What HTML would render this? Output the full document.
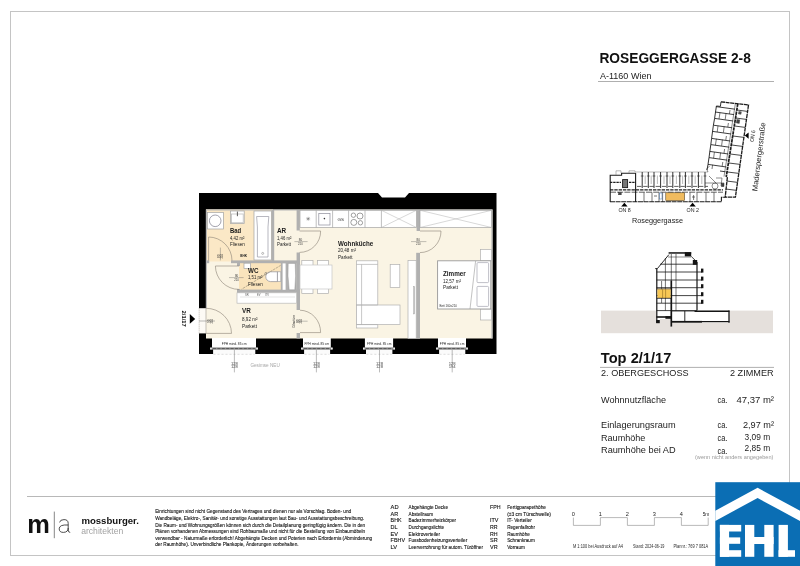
<!DOCTYPE html>
<html>
<head>
<meta charset="utf-8">
<title>Roseggergasse 2-8 - Top 2/1/17</title>
<style>
html,body{margin:0;padding:0;background:#fff;}
body{width:800px;height:566px;overflow:hidden;font-family:"Liberation Sans",sans-serif;}
svg{display:block;position:absolute;left:0;top:0;will-change:transform;}
text{font-family:"Liberation Sans",sans-serif;}
.b{font-weight:bold;}
</style>
</head>
<body>
<svg width="800" height="566" viewBox="0 0 800 566">
<rect x="0" y="0" width="800" height="566" fill="#ffffff"/>

<!-- ============ PAGE FRAME ============ -->
<g id="frame" fill="none" stroke="#c4c4c4" stroke-width="1">
  <rect x="10.5" y="11.5" width="779" height="544"/>
  <line x1="27" y1="496.5" x2="716" y2="496.5" stroke="#b8b8b8"/>
</g>

<!-- ============ FLOOR PLAN ============ -->
<g id="plan">
<!-- outer black walls -->
<polygon points="199,193 378,193 382,197.5 405,197.5 409,193 496.5,193 496.5,354 199,354" fill="#000"/>
<!-- room floor -->
<rect x="206" y="209.5" width="286.5" height="129" fill="#faf4e4"/>
<!-- tile rooms -->
<rect x="206" y="209.5" width="67" height="52" fill="#fbe8c6"/>
<rect x="239" y="262" width="43" height="29" fill="#fae4bc"/>
<!-- wall finish lines -->
<g fill="none" stroke="#b5b5b5" stroke-width="1.2">
  <polyline points="206.4,308 206.4,210 492,210 492,338.5"/>
</g>
<!-- entry door opening -->
<rect x="198.5" y="308.2" width="7.8" height="25.2" fill="#fdfaf5"/>
<g stroke="#999" stroke-width="0.5" fill="none">
  <line x1="199.2" y1="308.2" x2="199.2" y2="333.4" stroke-dasharray="1.2,0.8"/>
  <line x1="199" y1="321" x2="215" y2="321" stroke="#777"/>
  <path d="M206,308.3 A25.3,25.3 0 0 1 231.5,333.4 L206,333.4" stroke="#8a8275" stroke-width="0.6"/>
  <line x1="206" y1="308.2" x2="206" y2="333.4" stroke="#8a8275"/>
</g>
<!-- windows -->
<g id="windows">
  <g>
    <rect x="212" y="338" width="44.0" height="10" fill="#fff"/>
    <rect x="213.1" y="348" width="42.2" height="6.4" fill="#fbfbfb"/>
    <rect x="210.2" y="347.4" width="47.6" height="2.3" fill="#8c8c8c"/>
    <rect x="210.2" y="347.7" width="1.5" height="1.7" fill="#fff"/>
    <rect x="256.3" y="347.7" width="1.5" height="1.7" fill="#fff"/>
    <line x1="213.0" y1="348.55" x2="255.0" y2="348.55" stroke="#555" stroke-width="0.9" stroke-dasharray="3,1.4"/>
    <line x1="213.5" y1="354.3" x2="254.5" y2="354.3" stroke="#c8c8c8" stroke-width="0.6" stroke-dasharray="2,2"/>
  </g>
  <g>
    <rect x="303" y="338" width="27.8" height="10" fill="#fff"/>
    <rect x="304.1" y="348" width="26.0" height="6.4" fill="#fbfbfb"/>
    <rect x="301.2" y="347.4" width="31.4" height="2.3" fill="#8c8c8c"/>
    <rect x="301.2" y="347.7" width="1.5" height="1.7" fill="#fff"/>
    <rect x="331.1" y="347.7" width="1.5" height="1.7" fill="#fff"/>
    <line x1="304.0" y1="348.55" x2="329.8" y2="348.55" stroke="#555" stroke-width="0.9" stroke-dasharray="3,1.4"/>
    <line x1="304.5" y1="354.3" x2="329.3" y2="354.3" stroke="#c8c8c8" stroke-width="0.6" stroke-dasharray="2,2"/>
  </g>
  <g>
    <rect x="364.9" y="338" width="28.2" height="10" fill="#fff"/>
    <rect x="366.0" y="348" width="26.4" height="6.4" fill="#fbfbfb"/>
    <rect x="363.1" y="347.4" width="31.8" height="2.3" fill="#8c8c8c"/>
    <rect x="363.1" y="347.7" width="1.5" height="1.7" fill="#fff"/>
    <rect x="393.4" y="347.7" width="1.5" height="1.7" fill="#fff"/>
    <line x1="365.9" y1="348.55" x2="392.1" y2="348.55" stroke="#555" stroke-width="0.9" stroke-dasharray="3,1.4"/>
    <line x1="366.4" y1="354.3" x2="391.6" y2="354.3" stroke="#c8c8c8" stroke-width="0.6" stroke-dasharray="2,2"/>
  </g>
  <g>
    <rect x="438" y="338" width="28.0" height="10" fill="#fff"/>
    <rect x="439.1" y="348" width="26.2" height="6.4" fill="#fbfbfb"/>
    <rect x="436.2" y="347.4" width="31.6" height="2.3" fill="#8c8c8c"/>
    <rect x="436.2" y="347.7" width="1.5" height="1.7" fill="#fff"/>
    <rect x="466.3" y="347.7" width="1.5" height="1.7" fill="#fff"/>
    <line x1="439.0" y1="348.55" x2="465.0" y2="348.55" stroke="#555" stroke-width="0.9" stroke-dasharray="3,1.4"/>
    <line x1="439.5" y1="354.3" x2="464.5" y2="354.3" stroke="#c8c8c8" stroke-width="0.6" stroke-dasharray="2,2"/>
  </g>
</g>
<!-- inner grey walls -->
<g fill="#b0b0b0">
  <!-- Bad bottom wall -->
  <rect x="231" y="260.4" width="66" height="2.8"/>
  <rect x="206" y="260.4" width="3.2" height="2.8"/>
  <!-- Bad / AR wall (behind tub) -->
  <rect x="271.6" y="210" width="2.6" height="51"/>
  <!-- AR / Wohnkueche wall -->
  <rect x="296.6" y="210" width="3.2" height="20.5"/>
  <rect x="296.6" y="252.5" width="3.4" height="57.5"/>
  <rect x="296.6" y="333" width="3.4" height="5.5"/>
  <!-- WC walls -->
  <rect x="237" y="263" width="3" height="3"/>
  <rect x="237" y="289" width="3" height="4"/>
  <rect x="237" y="289.6" width="60" height="3.2"/>
  <rect x="280.8" y="262" width="16" height="29"/>
  <!-- Wohnkueche / Zimmer wall -->
  <rect x="416.6" y="210" width="3.4" height="21"/>
  <rect x="416.2" y="252.8" width="3.8" height="86"/>
</g>
<!-- shaft insets -->
<rect x="282.6" y="263.4" width="3" height="26.4" fill="#fff"/>
<path d="M288.2,263.4 L295.2,263.4 L295.6,276 L294.8,289.8 L289.2,289.8 L288,276 Z" fill="#fff" stroke="#888" stroke-width="0.4"/>
<!-- Schrankraum / wardrobe below WC -->
<rect x="237" y="292.8" width="59.6" height="10.4" fill="#fff" stroke="#b9b9b9" stroke-width="0.7"/>
<line x1="240" y1="297" x2="295" y2="297" stroke="#d5d5d5" stroke-width="0.6"/>
<text x="245" y="296" font-size="2.6" fill="#555">SR</text>
<text x="257" y="296" font-size="2.6" fill="#555">EV</text>
<text x="265" y="296" font-size="2.6" fill="#555">ITV</text>
<!-- furniture -->
<g fill="#fff" stroke="#a3a3a3" stroke-width="0.7">
  <!-- washing machine -->
  <rect x="207.4" y="212.4" width="16" height="16.6"/>
  <circle cx="215.2" cy="220.8" r="5.8" stroke="#7c7c8c"/>
  <!-- basin Bad -->
  <rect x="230.6" y="211" width="13.6" height="12.6"/>
  <rect x="231.6" y="214" width="11.6" height="8.8" stroke="#b5b5b5"/>
  <!-- bathtub -->
  <rect x="254" y="211" width="17.4" height="49"/>
  <path d="M256.6,216.5 L268.8,216.5 L268,227 L268,257 L257.4,257 L257.4,227 Z" stroke="#9a9aa5"/>
  <circle cx="262.7" cy="253.4" r="1" stroke="#777" stroke-width="0.5"/>
  <!-- WC basin -->
  <rect x="244" y="263.2" width="6.6" height="5.4"/>
  <!-- toilet -->
  <rect x="277.4" y="271.8" width="3.4" height="9.8"/>
  <path d="M277.4,271.8 L270.4,271.8 Q265.8,272.6 265.8,276.7 Q265.8,280.8 270.4,281.6 L277.4,281.6 Z" stroke="#8f8f9a"/>
</g>
<line x1="237.4" y1="211.6" x2="237.4" y2="216.2" stroke="#333" stroke-width="0.8"/>
<!-- kitchen -->
<g fill="#fff" stroke="#a3a3a3" stroke-width="0.7">
  <rect x="300" y="210.3" width="116.4" height="17.2"/>
  <line x1="316.2" y1="210.3" x2="316.2" y2="227.5"/>
  <line x1="332.6" y1="210.3" x2="332.6" y2="227.5"/>
  <line x1="348.6" y1="210.3" x2="348.6" y2="227.5"/>
  <line x1="365" y1="210.3" x2="365" y2="227.5"/>
  <line x1="381.4" y1="210.3" x2="381.4" y2="227.5"/>
  <line x1="381.4" y1="210.3" x2="416.4" y2="227.5" stroke="#b0b0b0" stroke-width="0.5"/>
  <line x1="381.4" y1="227.5" x2="416.4" y2="210.3" stroke="#b0b0b0" stroke-width="0.5"/>
  <!-- sink -->
  <rect x="318.8" y="213.6" width="11.2" height="11.4" stroke="#8d8d9b"/>
  <circle cx="324.4" cy="218.6" r="0.8" fill="#333" stroke="none"/>
  <!-- hob -->
  <circle cx="353.4" cy="215.2" r="2.2" stroke="#777"/>
  <circle cx="360" cy="216" r="3" stroke="#777"/>
  <circle cx="353.8" cy="222.4" r="3" stroke="#777"/>
  <circle cx="360.4" cy="222.8" r="2.2" stroke="#777"/>
  <!-- Zimmer wardrobe -->
  <rect x="420" y="210.3" width="71.6" height="17.2"/>
  <line x1="420" y1="210.3" x2="491.6" y2="227.5" stroke="#b0b0b0" stroke-width="0.5"/>
  <line x1="420" y1="227.5" x2="491.6" y2="210.3" stroke="#b0b0b0" stroke-width="0.5"/>
</g>
<g stroke="#555" stroke-width="0.4">
  <line x1="306.2" y1="218.8" x2="310.2" y2="218.8"/><line x1="308.2" y1="216.8" x2="308.2" y2="220.8"/>
  <line x1="306.8" y1="217.4" x2="309.6" y2="220.2"/><line x1="306.8" y1="220.2" x2="309.6" y2="217.4"/>
</g>
<text x="337.4" y="221" font-size="4.2" fill="#333" textLength="6.6" lengthAdjust="spacingAndGlyphs">GS</text>
<!-- dining table & chairs -->
<g fill="#fff" stroke="#b0b0b0" stroke-width="0.7">
  <rect x="301.8" y="260.6" width="11.2" height="5.4"/>
  <rect x="317.4" y="260.6" width="11.2" height="5.4"/>
  <rect x="301.8" y="288.4" width="11.2" height="5"/>
  <rect x="317.4" y="288.4" width="11.2" height="5"/>
  <rect x="300" y="265" width="32" height="24" stroke="#c5c5c5"/>
  <!-- sofa -->
  <rect x="356.4" y="260.8" width="21.4" height="67.2"/>
  <rect x="356.4" y="305" width="43.6" height="19.6"/>
  <line x1="361.6" y1="264.4" x2="361.6" y2="324.6"/>
  <line x1="356.4" y1="264.4" x2="377.8" y2="264.4"/>
  <line x1="356.4" y1="305" x2="377.8" y2="305"/>
  <line x1="356.4" y1="324.6" x2="377.8" y2="324.6"/>
  <!-- coffee table -->
  <rect x="390.2" y="264.4" width="9.6" height="23"/>
  <!-- tv board -->
  <rect x="408" y="260.4" width="8.2" height="78"/>
  <rect x="413.4" y="286.4" width="1.4" height="27.6" fill="#c9c9c9" stroke="#aaa" stroke-width="0.4"/>
  <!-- nightstands -->
  <rect x="480.4" y="249.4" width="11" height="11.4"/>
  <rect x="480.4" y="309" width="11" height="11"/>
  <!-- bed -->
  <rect x="437.6" y="260.8" width="53.2" height="48.2" stroke="#999" stroke-width="0.9"/>
  <rect x="477" y="262.6" width="11.6" height="20" rx="1" stroke="#a5a5b0"/>
  <rect x="477" y="286.4" width="11.6" height="20" rx="1" stroke="#a5a5b0"/>
  <line x1="475.6" y1="261" x2="470" y2="309" stroke="#999" stroke-width="0.6"/>
</g>
<!-- interior doors -->
<g fill="none" stroke="#8a8275" stroke-width="0.6">
  <!-- Bad door -->
  <path d="M208.6,260.6 L208.6,237 A23.6,23.6 0 0 1 232,260.6"/>
  <!-- AR door -->
  <path d="M299.6,231 L320.6,231 A21,21 0 0 1 299.6,252.4"/>
  <!-- WC door -->
  <path d="M239,266 L215.4,266 A23.6,23.6 0 0 0 239,289.4"/>
  <!-- glass door VR/Wohnkueche -->
  <path d="M300,332.6 L320.6,332.6 A21,22 0 0 0 300,310.2"/>
  <!-- Zimmer door -->
  <path d="M420,231 L441,231 A21,21.4 0 0 1 420,252.6"/>
  <line x1="280.6" y1="265.4" x2="241.6" y2="289.2" stroke="#77705f" stroke-width="0.5" stroke-dasharray="2.4,0.8"/>
  <path d="M264.4,275.4 L265.2,272.6 L266.4,272.4 L266.6,274" stroke="#666" stroke-width="0.5"/>
</g>
<!-- door dimension marks -->
<g stroke="#666" stroke-width="0.4" font-size="3" fill="#333" text-anchor="middle">
  <line x1="294.4" y1="241.6" x2="307.6" y2="241.6"/>
  <text x="300.4" y="240.8" stroke="none" textLength="3.4" lengthAdjust="spacingAndGlyphs">80</text>
  <text x="300.4" y="244.6" stroke="none" textLength="4.6" lengthAdjust="spacingAndGlyphs">210</text>
  <line x1="229" y1="277.6" x2="243.6" y2="277.6"/>
  <text x="236.6" y="276.8" stroke="none" textLength="3.4" lengthAdjust="spacingAndGlyphs">80</text>
  <text x="236.6" y="280.6" stroke="none" textLength="4.6" lengthAdjust="spacingAndGlyphs">210</text>
  <line x1="411" y1="241.6" x2="426.4" y2="241.6"/>
  <text x="418.2" y="240.8" stroke="none" textLength="3.4" lengthAdjust="spacingAndGlyphs">80</text>
  <text x="418.2" y="244.6" stroke="none" textLength="4.6" lengthAdjust="spacingAndGlyphs">210</text>
  <line x1="220.4" y1="247.6" x2="220.4" y2="260.4"/>
  <text transform="translate(219.7,256.2) rotate(-90)" stroke="none" font-size="3" text-anchor="middle" textLength="3.4" lengthAdjust="spacingAndGlyphs">80</text>
  <text transform="translate(223.4,256.2) rotate(-90)" stroke="none" font-size="3" text-anchor="middle" textLength="4.6" lengthAdjust="spacingAndGlyphs">210</text>
  <line x1="296.6" y1="321.2" x2="307.6" y2="321.2"/>
  <text transform="translate(299.2,321.2) rotate(-90)" stroke="none" font-size="3" text-anchor="middle" textLength="3.4" lengthAdjust="spacingAndGlyphs">80</text>
  <text transform="translate(302.4,321.2) rotate(-90)" stroke="none" font-size="3" text-anchor="middle" textLength="4.6" lengthAdjust="spacingAndGlyphs">210</text>
  <text transform="translate(294.8,327.8) rotate(-90)" stroke="none" font-size="3" text-anchor="start" textLength="13" lengthAdjust="spacingAndGlyphs">Glastüre</text>
  <text transform="translate(209.6,321.3) rotate(-90)" stroke="none" font-size="3" text-anchor="middle" textLength="3.4" lengthAdjust="spacingAndGlyphs">90</text>
  <text transform="translate(212.6,321.3) rotate(-90)" stroke="none" font-size="3" text-anchor="middle" textLength="4.6" lengthAdjust="spacingAndGlyphs">210</text>
</g>
<text x="240.2" y="257" font-size="3.2" fill="#222" font-weight="bold" textLength="6.8" lengthAdjust="spacingAndGlyphs">BHK</text>
<!-- entry marker -->
<polygon points="189.8,314 195.2,318.9 189.8,323.8" fill="#000"/>
<text transform="translate(182.4,310.6) rotate(90)" font-size="6.2" font-weight="bold" fill="#111" textLength="16.2" lengthAdjust="spacingAndGlyphs">2/1/17</text>
<!-- room labels -->
<g fill="#1a1a1a">
  <g font-weight="bold" font-size="8">
    <text x="230" y="233" textLength="11.2" lengthAdjust="spacingAndGlyphs">Bad</text>
    <text x="277" y="233" textLength="9.2" lengthAdjust="spacingAndGlyphs">AR</text>
    <text x="248" y="272.6" textLength="10.4" lengthAdjust="spacingAndGlyphs">WC</text>
    <text x="242" y="313" textLength="8.8" lengthAdjust="spacingAndGlyphs">VR</text>
    <text x="338" y="245.6" textLength="35.2" lengthAdjust="spacingAndGlyphs">Wohnküche</text>
    <text x="443" y="275.6" textLength="22.8" lengthAdjust="spacingAndGlyphs">Zimmer</text>
  </g>
  <g font-size="5.7" fill="#222">
    <text x="230" y="240" textLength="14.4" lengthAdjust="spacingAndGlyphs">4,42 m²</text>
    <text x="230" y="246.3" textLength="14.8" lengthAdjust="spacingAndGlyphs">Fliesen</text>
    <text x="277" y="240" textLength="14.4" lengthAdjust="spacingAndGlyphs">1,46 m²</text>
    <text x="277" y="246.3" textLength="14" lengthAdjust="spacingAndGlyphs">Parkett</text>
    <text x="248" y="279.4" textLength="14.4" lengthAdjust="spacingAndGlyphs">1,51 m²</text>
    <text x="248" y="286.2" textLength="14.8" lengthAdjust="spacingAndGlyphs">Fliesen</text>
    <text x="242" y="320.6" textLength="15.6" lengthAdjust="spacingAndGlyphs">8,92 m²</text>
    <text x="242" y="327.5" textLength="15" lengthAdjust="spacingAndGlyphs">Parkett</text>
    <text x="338" y="252.4" textLength="18" lengthAdjust="spacingAndGlyphs">20,48 m²</text>
    <text x="338" y="258.8" textLength="14.6" lengthAdjust="spacingAndGlyphs">Parkett</text>
    <text x="443" y="282.8" textLength="18" lengthAdjust="spacingAndGlyphs">12,57 m²</text>
    <text x="443" y="289.4" textLength="15" lengthAdjust="spacingAndGlyphs">Parkett</text>
  </g>
  <text x="439.4" y="307.2" font-size="2.9" fill="#333" textLength="17.6" lengthAdjust="spacingAndGlyphs">Bett 160x210</text>
</g>
<!-- FPH labels -->
<g font-size="4.2" fill="#1e1e1e" text-anchor="middle">
  <text x="234.2" y="345.2" textLength="25" lengthAdjust="spacingAndGlyphs">FPH mind. 85 cm</text>
  <text x="316.8" y="345.2" textLength="24.6" lengthAdjust="spacingAndGlyphs">FPH mind. 85 cm</text>
  <text x="379.2" y="345.2" textLength="24.6" lengthAdjust="spacingAndGlyphs">FPH mind. 85 cm</text>
  <text x="452" y="345.2" textLength="24.6" lengthAdjust="spacingAndGlyphs">FPH mind. 85 cm</text>
</g>
<!-- dimension ticks below windows -->
<g stroke="#858585" stroke-width="0.55" font-size="3.6" fill="#4a4a4a" text-anchor="middle">
  <line x1="234.4" y1="349.8" x2="234.4" y2="372.4"/>
  <line x1="316.4" y1="349.8" x2="316.4" y2="372.4"/>
  <line x1="379.5" y1="349.8" x2="379.5" y2="372.4"/>
  <line x1="452.2" y1="349.8" x2="452.2" y2="372.4"/>
  <g stroke="none">
  <text x="234.4" y="364.8" textLength="7" lengthAdjust="spacingAndGlyphs">128</text>
  <text x="234.4" y="367.9" textLength="7" lengthAdjust="spacingAndGlyphs">128</text>
  <text x="316.4" y="364.8" textLength="7" lengthAdjust="spacingAndGlyphs">128</text>
  <text x="316.4" y="367.9" textLength="7" lengthAdjust="spacingAndGlyphs">128</text>
  <text x="379.5" y="364.8" textLength="7" lengthAdjust="spacingAndGlyphs">128</text>
  <text x="379.5" y="367.9" textLength="7" lengthAdjust="spacingAndGlyphs">128</text>
  <text x="452.2" y="364.8" textLength="7" lengthAdjust="spacingAndGlyphs">128</text>
  <text x="452.2" y="367.9" textLength="7" lengthAdjust="spacingAndGlyphs">194</text>
  </g>
</g>
<text x="250.4" y="367" font-size="5.8" fill="#a6a6a6" textLength="29.4" lengthAdjust="spacingAndGlyphs">Gesimse NEU</text>

</g>

<!-- ============ RIGHT PANEL ============ -->
<g id="panel">
<!-- title -->
<text x="599.4" y="62.6" font-size="14" font-weight="bold" fill="#111" textLength="151.4" lengthAdjust="spacingAndGlyphs">ROSEGGERGASSE 2-8</text>
<text x="600" y="78.8" font-size="9" fill="#222" textLength="51.4" lengthAdjust="spacingAndGlyphs">A-1160 Wien</text>
<line x1="598" y1="81.5" x2="774" y2="81.5" stroke="#9a9a9a" stroke-width="0.8"/>

<!-- site plan -->
<g id="site" fill="none" stroke="#1c1c1c" stroke-width="0.8">
  <!-- horizontal wing outline -->
  <path d="M610.2,202 L610.2,175.2 L621.6,175.2 L621.6,173.2 L635.6,173.2" stroke-width="1.1"/>
  <path d="M616,175 L616,170.8 L621,170.8 L621,173 M629,173 L629,170.8 L635,170.8 L635,172 L708,172" stroke-width="0.5" stroke="#777"/>
  <path d="M610,201.8 L721.4,201.8 L721.4,197.3 L725.4,197.3" stroke-width="1.1" stroke-dasharray="5,0.6"/>
  <!-- corridor lines -->
  <line x1="610" y1="189.8" x2="723" y2="189.8" stroke-width="1.2" stroke-dasharray="3.4,0.9"/>
  <line x1="610" y1="192.2" x2="723" y2="192.2" stroke-width="0.7" stroke-dasharray="6,1.2"/>
  <!-- left block details -->
  <line x1="635.6" y1="173" x2="635.6" y2="202" stroke-width="1.1"/>
  <line x1="610" y1="182.4" x2="621" y2="182.4" stroke-width="1.1" stroke-dasharray="2.4,0.8"/>
  <line x1="629" y1="182.4" x2="636" y2="182.4" stroke-width="1.1" stroke-dasharray="2.4,0.8"/>
  <rect x="622.6" y="179.6" width="5" height="8" fill="#777" stroke-width="0.9"/>
  <rect x="618.6" y="192.6" width="2.6" height="2.2" fill="#444" stroke-width="0.4"/>
  <!-- partitions upper rooms -->
  <g stroke-width="0.9">
    <line x1="642.2" y1="172" x2="642.2" y2="188"/>
    <line x1="648.3" y1="172" x2="648.3" y2="188"/>
    <line x1="654" y1="172" x2="654" y2="188"/>
    <line x1="660.6" y1="172" x2="660.6" y2="188"/>
    <line x1="667" y1="172" x2="667" y2="188"/>
    <line x1="672.8" y1="172" x2="672.8" y2="188"/>
    <line x1="679.8" y1="172" x2="679.8" y2="188"/>
    <line x1="685.4" y1="172" x2="685.4" y2="188"/>
    <line x1="692" y1="172" x2="692" y2="188"/>
    <line x1="698.4" y1="172" x2="698.4" y2="188"/>
    <line x1="705" y1="172" x2="705" y2="188"/>
    <line x1="637" y1="186.4" x2="708" y2="186.4" stroke-width="0.7" stroke-dasharray="4.4,1.8"/>
    <line x1="645.2" y1="175.5" x2="645.2" y2="184" stroke-width="0.45" stroke="#666"/>
    <line x1="651.2" y1="175.5" x2="651.2" y2="184" stroke-width="0.45" stroke="#666"/>
    <line x1="657.4" y1="175.5" x2="657.4" y2="184" stroke-width="0.45" stroke="#666"/>
    <line x1="664" y1="175.5" x2="664" y2="184" stroke-width="0.45" stroke="#666"/>
    <line x1="670" y1="175.5" x2="670" y2="184" stroke-width="0.45" stroke="#666"/>
    <line x1="676.4" y1="175.5" x2="676.4" y2="184" stroke-width="0.45" stroke="#666"/>
    <line x1="682.6" y1="175.5" x2="682.6" y2="184" stroke-width="0.45" stroke="#666"/>
    <line x1="688.8" y1="175.5" x2="688.8" y2="184" stroke-width="0.45" stroke="#666"/>
    <line x1="695.2" y1="175.5" x2="695.2" y2="184" stroke-width="0.45" stroke="#666"/>
    <line x1="701.8" y1="175.5" x2="701.8" y2="184" stroke-width="0.45" stroke="#666"/>
    <line x1="640.8000000000001" y1="176" x2="643.6" y2="176" stroke-width="0.6"/>
    <line x1="646.9" y1="176" x2="649.6999999999999" y2="176" stroke-width="0.6"/>
    <line x1="652.6" y1="176" x2="655.4" y2="176" stroke-width="0.6"/>
    <line x1="659.2" y1="176" x2="662.0" y2="176" stroke-width="0.6"/>
    <line x1="665.6" y1="176" x2="668.4" y2="176" stroke-width="0.6"/>
    <line x1="671.4" y1="176" x2="674.1999999999999" y2="176" stroke-width="0.6"/>
    <line x1="678.4" y1="176" x2="681.1999999999999" y2="176" stroke-width="0.6"/>
    <line x1="684.0" y1="176" x2="686.8" y2="176" stroke-width="0.6"/>
    <line x1="690.6" y1="176" x2="693.4" y2="176" stroke-width="0.6"/>
    <line x1="697.0" y1="176" x2="699.8" y2="176" stroke-width="0.6"/>
    <line x1="703.6" y1="176" x2="706.4" y2="176" stroke-width="0.6"/>
  </g>
  <!-- partitions lower rooms -->
  <g stroke-width="0.6">
    <line x1="644" y1="192.4" x2="644" y2="202"/>
    <line x1="652" y1="192.4" x2="652" y2="202"/>
    <line x1="659" y1="192.4" x2="659" y2="202"/>
    <line x1="662.6" y1="192.4" x2="662.6" y2="202"/>
    <line x1="690" y1="192.4" x2="690" y2="202"/>
    <line x1="697" y1="192.4" x2="697" y2="202"/>
    <line x1="706" y1="192.4" x2="706" y2="202"/>
    <line x1="714" y1="192.4" x2="714" y2="202"/>
    <line x1="692" y1="197" x2="695" y2="197"/>
    <line x1="693.6" y1="195" x2="693.6" y2="200"/>
    <line x1="654" y1="196" x2="657" y2="196"/>
  </g>
  <rect x="659.4" y="193" width="2.6" height="6" stroke="#4a78b0" stroke-width="0.5"/>
  <!-- corner apartments -->
  <path d="M708,172 L706.6,169 L709.6,166 M709,176 L716,183 M712,186 A3,3 0 1 0 718,186 A3,3 0 1 0 712,186 M716,178 L722,178 L721,186 M705,183 L724,183" stroke-width="0.5"/>
  <rect x="721.4" y="183.4" width="2.6" height="3.2" fill="#444" stroke-width="0.4"/>
  <!-- angled wing : outer -->
  <path d="M721,101.8 L748.5,105 L735.4,197.2 L725.2,197.2 L727.4,177" stroke-width="1.3" stroke-dasharray="4,0.6"/>
  <!-- corridor thick line -->
  <path d="M737.8,103.6 L726.2,177" stroke-width="1.7" stroke-dasharray="3.4,0.6"/>
  <path d="M735.4,103.4 L724,176.6" stroke-width="0.5"/>
  <!-- west side rooms of angled wing -->
  <path d="M721,101.8 L720.4,106.4 L716.4,106 L714.6,118.4 L713.4,125.2 L711.6,138.4 L710.8,144.6 L709,157.6 L708,164.4 L707,170" stroke-width="0.9"/>
  <path d="M720,112.6 L719,119 M718,125.8 L717.2,132 M716.4,138.8 L715.4,145.2 M714.4,152 L713.6,158.2 M712.6,164.8 L712,169 M726,113.4 L725.2,119.6 M724.2,126.4 L723.4,132.6 M722.4,139.6 L721.6,145.8 M720.6,152.6 L719.8,158.8 M730,110 L729.4,114 M728.4,123 L727.8,127 M726.4,136 L725.8,140 M724.6,149 L724,153 M722.8,162 L722.2,166" stroke-width="0.6"/>
  <g stroke-width="0.85">
    <line x1="716" y1="106.6" x2="735" y2="109.2"/>
    <line x1="715.2" y1="112" x2="734" y2="114.6"/>
    <line x1="714.6" y1="118.4" x2="733.2" y2="121"/>
    <line x1="713.4" y1="125.2" x2="732.2" y2="127.8"/>
    <line x1="712.6" y1="131.4" x2="731.2" y2="134"/>
    <line x1="711.6" y1="138.4" x2="730.2" y2="141"/>
    <line x1="710.8" y1="144.6" x2="729.4" y2="147.2"/>
    <line x1="709.8" y1="151.4" x2="728.4" y2="154"/>
    <line x1="709" y1="157.6" x2="727.4" y2="160.2"/>
    <line x1="708" y1="164.4" x2="726.4" y2="167"/>
    <line x1="720" y1="171" x2="725.6" y2="171.8"/>
  </g>
  <!-- east strip partitions -->
  <g stroke-width="0.8">
    <line x1="737" y1="110" x2="747.4" y2="111.4"/>
    <line x1="735.8" y1="118" x2="746.4" y2="119.4"/>
    <line x1="734.6" y1="126" x2="745.2" y2="127.4"/>
    <line x1="733" y1="136" x2="744" y2="137.4"/>
    <line x1="731.6" y1="145" x2="742.6" y2="146.4"/>
    <line x1="730.2" y1="154" x2="741.4" y2="155.4"/>
    <line x1="728.8" y1="163" x2="740.2" y2="164.4"/>
    <line x1="727.4" y1="172" x2="739" y2="173.4"/>
    <line x1="726.6" y1="181" x2="737.8" y2="182.4"/>
    <line x1="725.6" y1="189" x2="736.8" y2="190.4"/>
  </g>
  <rect x="736.6" y="119.6" width="3" height="3.6" fill="#444" stroke-width="0.3" transform="rotate(8 738 121)"/>
  <rect x="738.6" y="111.6" width="2.6" height="2.6" fill="#555" stroke-width="0.3" transform="rotate(8 740 113)"/>
</g>
<!-- highlighted flat -->
<rect x="665.8" y="192.8" width="18.8" height="7.8" fill="#f0bb5e" stroke="#3a2a10" stroke-width="0.5"/>
<!-- access markers -->
<polygon points="624.4,202.8 621.2,206.6 627.6,206.6" fill="#000"/>
<polygon points="692.6,202.8 689.4,206.6 695.8,206.6" fill="#000"/>
<polygon points="744.8,135.6 748.6,132.4 748.6,138.8" fill="#000"/>
<text x="624.6" y="212.2" font-size="5.6" fill="#222" text-anchor="middle" textLength="12.4" lengthAdjust="spacingAndGlyphs">ON 8</text>
<text x="692.8" y="212.2" font-size="5.6" fill="#222" text-anchor="middle" textLength="12.4" lengthAdjust="spacingAndGlyphs">ON 2</text>
<text transform="translate(753.8,142) rotate(-83)" font-size="5.6" fill="#222" textLength="11.6" lengthAdjust="spacingAndGlyphs">ON 6</text>
<text x="632" y="222.8" font-size="7.6" fill="#222" textLength="51" lengthAdjust="spacingAndGlyphs">Roseggergasse</text>
<text transform="translate(757.2,191.4) rotate(-83)" font-size="7.6" fill="#222" textLength="69" lengthAdjust="spacingAndGlyphs">Maderspergerstraße</text>

<!-- section -->
<rect x="601" y="310.6" width="172" height="22.6" fill="#e5e0dc"/>
<g id="section" fill="none" stroke="#141414" stroke-width="0.8">
  <!-- building interior white -->
  <path d="M656.6,323 L656.6,268.4 L668.9,254 L691,254 L691,256.4 L696.7,261.6 L697.2,310.8 L729.4,310.8 L729.4,322.6 L672,322.6 L672,326.4 L670.6,326.4 L670.6,319 L660,319 L660,323 Z" fill="#fff" stroke="none"/>
  <!-- outline -->
  <path d="M656.8,323 L656.8,268.4" stroke-width="1.2"/>
  <path d="M655.2,268.6 L657.4,268.6 L668.9,254.6" stroke-width="0.9"/>
  <path d="M691.2,256.4 L696.4,261.4" stroke-width="0.8"/>
  <rect x="668.6" y="252.2" width="22.6" height="1.5" fill="#141414" stroke="none"/>
  <rect x="684.8" y="252.2" width="6.4" height="4.2" fill="#141414" stroke="none"/>
  <rect x="692.8" y="260" width="4.4" height="4.8" fill="#141414" stroke="none"/>
  <line x1="697" y1="262" x2="697" y2="310.6" stroke-width="1.2"/>
  <!-- floors -->
  <g stroke-width="0.8">
    <line x1="668" y1="257" x2="691" y2="257" stroke-width="0.5"/>
    <line x1="660" y1="264.2" x2="696.6" y2="264.2"/>
    <line x1="656.6" y1="272" x2="702" y2="272"/>
    <line x1="656.6" y1="280" x2="702" y2="280"/>
    <line x1="656.6" y1="287.7" x2="702" y2="287.7"/>
    <line x1="656.6" y1="295.6" x2="702" y2="295.6"/>
    <line x1="656.6" y1="303.2" x2="702" y2="303.2"/>
    <line x1="656.6" y1="310.6" x2="697" y2="310.6"/>
  </g>
  <!-- balcony end blocks -->
  <g fill="#141414" stroke="none">
    <rect x="701" y="268.6" width="2.4" height="4"/>
    <rect x="701" y="276.6" width="2.4" height="4"/>
    <rect x="701" y="284.2" width="2.4" height="4"/>
    <rect x="701" y="292.2" width="2.4" height="4"/>
    <rect x="701" y="299.8" width="2.4" height="4"/>
  </g>
  <!-- interior verticals -->
  <g stroke-width="0.6">
    <line x1="665.4" y1="258" x2="665.4" y2="310.6"/>
    <line x1="671.3" y1="254" x2="671.3" y2="281"/>
    <line x1="676" y1="254" x2="676" y2="310.6"/>
    <line x1="661.6" y1="281" x2="661.6" y2="303"/>
  </g>
  <line x1="671.3" y1="280.6" x2="671.3" y2="326.6" stroke-width="1.7"/>
  <!-- basement -->
  <rect x="656.4" y="316.2" width="15" height="1.6" fill="#141414" stroke="none"/>
  <rect x="665.4" y="316.2" width="6" height="2.6" fill="#141414" stroke="none"/>
  <rect x="656.2" y="320" width="3.6" height="3.2" fill="#141414" stroke="none"/>
  <line x1="672" y1="311" x2="694.4" y2="311" stroke-width="0.7"/>
  <line x1="694.4" y1="311.2" x2="729.4" y2="311.2" stroke-width="1.4"/>
  <line x1="729" y1="310.6" x2="729" y2="322.8" stroke-width="1.3"/>
  <line x1="671.3" y1="321.8" x2="702" y2="321.8" stroke-width="1.8"/>
  <line x1="702" y1="321.6" x2="729.4" y2="321.6" stroke-width="1.2"/>
  <line x1="684.8" y1="311" x2="684.8" y2="321.4" stroke-width="0.9"/>
</g>
<rect x="657.4" y="289.2" width="13.2" height="8.8" fill="#f8c855"/>
<line x1="656.8" y1="298.3" x2="671" y2="298.3" stroke="#141414" stroke-width="0.8"/>
<line x1="656.8" y1="288.8" x2="671" y2="288.8" stroke="#3a2a10" stroke-width="0.7"/>
<g stroke="#7a5a18" stroke-width="0.5">
  <line x1="665.6" y1="289.2" x2="665.6" y2="298"/>
  <line x1="662.6" y1="289.2" x2="662.6" y2="298"/>
</g>

<!-- data block -->
<text x="600.8" y="363" font-size="14.6" font-weight="bold" fill="#111" textLength="70.6" lengthAdjust="spacingAndGlyphs">Top 2/1/17</text>
<line x1="600" y1="367.4" x2="774" y2="367.4" stroke="#9a9a9a" stroke-width="0.8"/>
<g font-size="8.6" fill="#222">
  <text x="601" y="376.2" textLength="87.6" lengthAdjust="spacingAndGlyphs">2. OBERGESCHOSS</text>
  <text x="730" y="376.2" textLength="43.6" lengthAdjust="spacingAndGlyphs">2 ZIMMER</text>
</g>
<g font-size="9.4" fill="#222">
  <text x="601" y="402.6" textLength="65" lengthAdjust="spacingAndGlyphs">Wohnnutzfläche</text>
  <text x="717.6" y="402.6" textLength="10" lengthAdjust="spacingAndGlyphs">ca.</text>
  <text x="736.4" y="402.6" textLength="37.6" lengthAdjust="spacingAndGlyphs">47,37 m²</text>
  <text x="601" y="428" textLength="74.6" lengthAdjust="spacingAndGlyphs">Einlagerungsraum</text>
  <text x="717.6" y="428.2" textLength="10" lengthAdjust="spacingAndGlyphs">ca.</text>
  <text x="743" y="428" textLength="31" lengthAdjust="spacingAndGlyphs">2,97 m²</text>
  <text x="601" y="440.8" textLength="44.4" lengthAdjust="spacingAndGlyphs">Raumhöhe</text>
  <text x="717.6" y="441" textLength="10" lengthAdjust="spacingAndGlyphs">ca.</text>
  <text x="744.6" y="440" textLength="25.6" lengthAdjust="spacingAndGlyphs">3,09 m</text>
  <text x="601" y="453.4" textLength="74.6" lengthAdjust="spacingAndGlyphs">Raumhöhe bei AD</text>
  <text x="717.6" y="453.8" textLength="10" lengthAdjust="spacingAndGlyphs">ca.</text>
  <text x="744.6" y="451.4" textLength="25.6" lengthAdjust="spacingAndGlyphs">2,85 m</text>
</g>
<text x="695" y="458.8" font-size="5.2" fill="#9a9a9a" textLength="78.4" lengthAdjust="spacingAndGlyphs">(wenn nicht anders angegeben)</text>

</g>

<!-- ============ FOOTER ============ -->
<g id="footer">
<!-- architects logo -->
<text x="27.2" y="532.6" font-size="25.4" font-weight="bold" fill="#111" textLength="22.6" lengthAdjust="spacingAndGlyphs">m</text>
<line x1="54.3" y1="511.6" x2="54.3" y2="538.2" stroke="#333" stroke-width="0.6"/>
<path d="M59.6,522.4 Q60,519.6 64,519.6 Q68.2,519.6 68.2,523.4 L68.2,530 Q68.2,532.4 70.2,532.4 M68.2,525 Q59.2,524.4 59.2,528.8 Q59.2,532.4 63.4,532.4 Q68.2,532.2 68.2,528" fill="none" stroke="#222" stroke-width="0.8"/>
<text x="81.4" y="524" font-size="9.4" font-weight="bold" fill="#111" textLength="57.6" lengthAdjust="spacingAndGlyphs">mossburger.</text>
<text x="81.2" y="533.6" font-size="9" fill="#a2a2a2" textLength="42" lengthAdjust="spacingAndGlyphs">architekten</text>
<!-- disclaimer -->
<g font-size="5.3" fill="#151515" stroke="#151515" stroke-width="0.12">
  <text x="155.2" y="513.4" textLength="196" lengthAdjust="spacingAndGlyphs">Einrichtungen sind nicht Gegenstand des Vertrages und dienen nur als Vorschlag. Boden- und</text>
  <text x="155.2" y="520" textLength="209" lengthAdjust="spacingAndGlyphs">Wandbeläge, Elektro-, Sanitär- und sonstige Ausstattungen laut Bau- und Ausstattungsbeschreibung.</text>
  <text x="155.2" y="526.6" textLength="210" lengthAdjust="spacingAndGlyphs">Die Raum- und Wohnungsgrößen können sich durch die Detailplanung geringfügig ändern. Die in den</text>
  <text x="155.2" y="533.2" textLength="210" lengthAdjust="spacingAndGlyphs">Plänen vorhandenen Abmessungen sind Rohbaumaße und nicht für die Bestellung von Einbaumöbeln</text>
  <text x="155.2" y="539.6" textLength="217" lengthAdjust="spacingAndGlyphs">verwendbar - Naturmaße erforderlich! Abgehängte Decken und Poterien nach Erfordernis (Abminderung</text>
  <text x="155.2" y="546" textLength="143.4" lengthAdjust="spacingAndGlyphs">der Raumhöhe). Unverbindliche Plankopie, Änderungen vorbehalten.</text>
</g>
<!-- legend -->
<g font-size="5.3" fill="#151515" stroke="#151515" stroke-width="0.12">
  <text x="390.6" y="508.8" textLength="8" lengthAdjust="spacingAndGlyphs">AD</text>
  <text x="390.6" y="515.5" textLength="7.6" lengthAdjust="spacingAndGlyphs">AR</text>
  <text x="390.6" y="522.2" textLength="11" lengthAdjust="spacingAndGlyphs">BHK</text>
  <text x="390.6" y="528.9" textLength="7" lengthAdjust="spacingAndGlyphs">DL</text>
  <text x="390.6" y="535.5" textLength="7.4" lengthAdjust="spacingAndGlyphs">EV</text>
  <text x="390.6" y="542.2" textLength="14.4" lengthAdjust="spacingAndGlyphs">FBHV</text>
  <text x="390.6" y="548.8" textLength="6.6" lengthAdjust="spacingAndGlyphs">LV</text>
  <text x="408.6" y="508.8" textLength="39.4" lengthAdjust="spacingAndGlyphs">Abgehängte Decke</text>
  <text x="408.6" y="515.5" textLength="24.6" lengthAdjust="spacingAndGlyphs">Abstellraum</text>
  <text x="408.6" y="522.2" textLength="47.4" lengthAdjust="spacingAndGlyphs">Badezimmerheizkörper</text>
  <text x="408.6" y="528.9" textLength="35.6" lengthAdjust="spacingAndGlyphs">Durchgangslichte</text>
  <text x="408.6" y="535.5" textLength="31.4" lengthAdjust="spacingAndGlyphs">Elektroverteiler</text>
  <text x="408.6" y="542.2" textLength="58.6" lengthAdjust="spacingAndGlyphs">Fussbodenheizungsverteiler</text>
  <text x="408.6" y="548.8" textLength="74.4" lengthAdjust="spacingAndGlyphs">Leerverrohrung für autom. Türöffner</text>
  <text x="490" y="508.8" textLength="10.6" lengthAdjust="spacingAndGlyphs">FPH</text>
  <text x="490" y="522.2" textLength="8.4" lengthAdjust="spacingAndGlyphs">ITV</text>
  <text x="490" y="528.9" textLength="7.6" lengthAdjust="spacingAndGlyphs">RR</text>
  <text x="490" y="535.5" textLength="7.6" lengthAdjust="spacingAndGlyphs">RH</text>
  <text x="490" y="542.2" textLength="7.6" lengthAdjust="spacingAndGlyphs">SR</text>
  <text x="490" y="548.8" textLength="7.6" lengthAdjust="spacingAndGlyphs">VR</text>
  <text x="507.2" y="508.8" textLength="38.8" lengthAdjust="spacingAndGlyphs">Fertigparapethöhe</text>
  <text x="507.2" y="515.5" textLength="43.8" lengthAdjust="spacingAndGlyphs">(±3 cm Türschwelle)</text>
  <text x="507.2" y="522.2" textLength="24.6" lengthAdjust="spacingAndGlyphs">IT- Verteiler</text>
  <text x="507.2" y="528.9" textLength="27.8" lengthAdjust="spacingAndGlyphs">Regenfallrohr</text>
  <text x="507.2" y="535.5" textLength="22.6" lengthAdjust="spacingAndGlyphs">Raumhöhe</text>
  <text x="507.2" y="542.2" textLength="27.6" lengthAdjust="spacingAndGlyphs">Schrankraum</text>
  <text x="507.2" y="548.8" textLength="17.8" lengthAdjust="spacingAndGlyphs">Vorraum</text>
</g>
<!-- scale bar -->
<path d="M573.4,517.6 L573.4,525.4 L600.4,525.4 L600.4,517.6 L627.4,517.6 L627.4,525.4 L654.4,525.4 L654.4,517.6 L681.4,517.6 L681.4,525.4 L708.2,525.4 L708.2,517.6" fill="none" stroke="#8a8a8a" stroke-width="0.6"/>
<g font-size="5.6" fill="#222" text-anchor="middle">
  <text x="573.4" y="516.4">0</text>
  <text x="600.4" y="516.4">1</text>
  <text x="627.4" y="516.4">2</text>
  <text x="654.4" y="516.4">3</text>
  <text x="681.4" y="516.4">4</text>
  <text x="706" y="516.4" textLength="6.6" lengthAdjust="spacingAndGlyphs">5m</text>
</g>
<g font-size="4.7" fill="#2a2a2a">
  <text x="573" y="548.2" textLength="50" lengthAdjust="spacingAndGlyphs">M 1:100 bei Ausdruck auf A4</text>
  <text x="633" y="548.2" textLength="31.4" lengthAdjust="spacingAndGlyphs">Stand: 2024-06-19</text>
  <text x="673.6" y="548.2" textLength="34.6" lengthAdjust="spacingAndGlyphs">Plannr.: 769 7 081A</text>
</g>

</g>

<!-- ============ EHL LOGO ============ -->
<g id="logo">
<rect x="715.3" y="482.2" width="85" height="84" fill="#0b6eb4"/>
<!-- roof chevron -->
<polygon points="715.3,510.7 757.6,487.8 800,510.7 800,520.9 757.6,498 715.3,520.9" fill="#fff"/>
<!-- EHL -->
<g fill="#fff">
  <rect x="719.9" y="524.9" width="9.2" height="31.9"/>
  <rect x="719.9" y="524.9" width="21.3" height="6.6"/>
  <rect x="719.9" y="537.4" width="20.3" height="6.4"/>
  <rect x="719.9" y="550.2" width="21.3" height="6.6"/>
  <rect x="745" y="524.9" width="9.3" height="31.9"/>
  <rect x="764.3" y="524.9" width="9.3" height="31.9"/>
  <rect x="745" y="537" width="28.6" height="7"/>
  <rect x="778.6" y="524.9" width="9.3" height="31.9"/>
  <rect x="778.6" y="550.2" width="16.4" height="6.6"/>
</g>

</g>
</svg>
</body>
</html>
